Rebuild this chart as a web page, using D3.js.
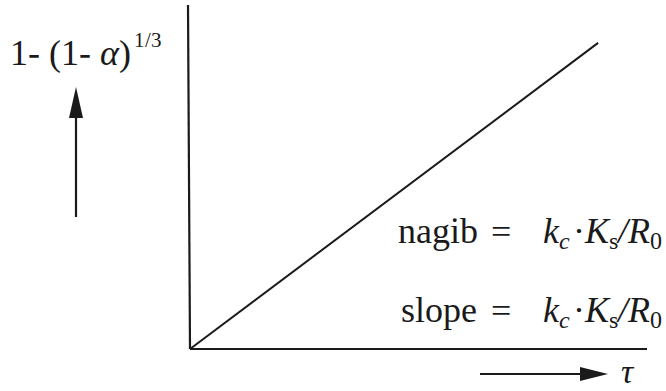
<!DOCTYPE html>
<html><head><meta charset="UTF-8"><script src="https://cdn.jsdelivr.net/npm/d3@7"></script>
<style>
@font-face { font-family: "PlotSerif"; font-style: normal; src: local("Liberation Serif"), local("LiberationSerif"), local("LiberationSerif-Regular"), local("Tinos"); }
@font-face { font-family: "PlotSerif"; font-style: italic; src: local("Liberation Serif Italic"), local("LiberationSerif-Italic"), local("Tinos Italic"); }
</style>
</head>
<body style="margin:0">
<svg id="c" width="666" height="391"></svg>
<script>
// data: the straight line of the model, in axis units
let tau = [0, 0.893];
let conv = [0, 0.89];

// axis extents
let xDomain = [0, 1];
let yDomain = [0, 1];

// text of the figure
let yLabelMain = "1- (1- ";
let yLabelVar = "α";
let yLabelExp = "1/3";
let xLabel = "τ";
let rowWords = ["nagib", "slope"];

let svg = d3.select("#c");
let ink = "#1a1a1a";
let fam = "PlotSerif, 'Liberation Serif', Tinos, serif";

let x = d3.scaleLinear().domain(xDomain).range([190, 647]);
let y = d3.scaleLinear().domain(yDomain).range([349, 5]);

// axes (plain lines, no ticks)
svg.append("line")
    .attr("x1", x(0) - 2).attr("y1", y(1))
    .attr("x2", x(0)).attr("y2", y(0))
    .attr("stroke", ink).attr("stroke-width", 2.2);
svg.append("line")
    .attr("x1", x(0)).attr("y1", y(0))
    .attr("x2", x(1)).attr("y2", y(0))
    .attr("stroke", ink).attr("stroke-width", 2);

// the line
svg.append("path")
    .datum(d3.zip(tau, conv))
    .attr("d", d3.line().x(d => x(d[0])).y(d => y(d[1])))
    .attr("fill", "none")
    .attr("stroke", ink)
    .attr("stroke-width", 2);

function txt(px, py, size) {
    return svg.append("text").attr("x", px).attr("y", py)
        .style("font-family", fam)
        .style("font-size", size + "px")
        .style("fill", ink);
}

// y label  1- (1- α)^1/3
let yl = txt(10, 65, 36);
yl.append("tspan").text(yLabelMain);
yl.append("tspan").style("font-style", "italic").text(yLabelVar);
yl.append("tspan").text(")");
yl.append("tspan").attr("dx", 3).attr("dy", -18).style("font-size", "21px").text(yLabelExp);

// up arrow
svg.append("line").attr("x1", 76).attr("y1", 217).attr("x2", 76).attr("y2", 112)
    .attr("stroke", ink).attr("stroke-width", 2.2);
svg.append("path").attr("d", "M76,87 L83,118 L69,118 Z").attr("fill", ink);

// right arrow and tau
svg.append("line").attr("x1", 480).attr("y1", 374).attr("x2", 585).attr("y2", 374)
    .attr("stroke", ink).attr("stroke-width", 2.2);
svg.append("path").attr("d", "M608,374 L580,367 L580,381 Z").attr("fill", ink);
txt(621, 383, 34).style("font-style", "italic").text(xLabel);

// formula rows
function formula(word, wx, base) {
    txt(wx, base, 36).text(word);
    txt(491, base, 36).text("=");
    let t = txt(543, base, 36);
    t.append("tspan").style("font-style", "italic").text("k");
    t.append("tspan").style("font-style", "italic").attr("dy", 6).style("font-size", "24px").text("c");
    t.append("tspan").attr("dy", -6).attr("dx", 3).text("·");
    t.append("tspan").style("font-style", "italic").text("K");
    t.append("tspan").attr("dy", 6).style("font-size", "24px").text("s");
    t.append("tspan").attr("dy", -6).style("font-style", "italic").text("/R");
    t.append("tspan").attr("dy", 6).style("font-size", "24px").text("0");
}
formula(rowWords[0], 398, 243);
formula(rowWords[1], 401, 322);
</script>
</body>
</html>
